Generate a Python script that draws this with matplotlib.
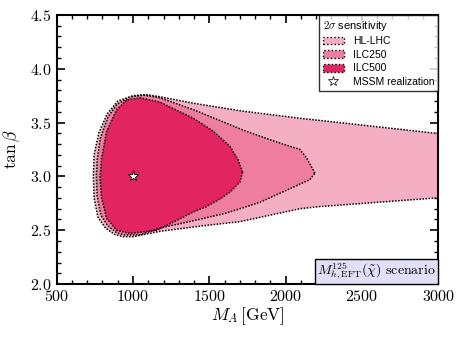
import numpy as np
import matplotlib
matplotlib.use('Agg')
import matplotlib.pyplot as plt
from matplotlib.patches import Patch
from matplotlib.lines import Line2D
from matplotlib.offsetbox import AnchoredText
from matplotlib.ticker import MultipleLocator

plt.rcParams['font.family'] = 'serif'
plt.rcParams['font.serif'] = ['cmr10']
plt.rcParams['mathtext.fontset'] = 'cm'
plt.rcParams['axes.unicode_minus'] = False
plt.rcParams['axes.formatter.use_mathtext'] = True

# contour boundaries (M_A [GeV], tan beta)
hl_ma = [3100, 2989, 2225, 2094, 1700, 1395, 1177, 1089, 1000, 900, 830, 775,
         745, 740, 745, 770, 820, 880, 935, 1000, 1177, 1450, 1701, 2094, 2225, 2989, 3100]
hl_tb = [3.39, 3.40, 3.52, 3.54, 3.61, 3.68, 3.74, 3.76, 3.75, 3.70, 3.58, 3.40,
         3.20, 3.00, 2.80, 2.62, 2.52, 2.46, 2.44, 2.44, 2.49, 2.54, 2.58, 2.70, 2.72, 2.80, 2.81]

ilc250_ma = [2192, 2138, 2094, 1900, 1722, 1550, 1395, 1177, 1070, 985, 895, 835, 785,
             765, 760, 765, 790, 835, 895, 950, 1050, 1177, 1400, 1614, 1832, 2050, 2159]
ilc250_tb = [3.03, 3.17, 3.25, 3.34, 3.43, 3.53, 3.62, 3.73, 3.755, 3.74, 3.67, 3.55, 3.35,
             3.15, 3.00, 2.82, 2.64, 2.54, 2.475, 2.455, 2.46, 2.52, 2.59, 2.66, 2.76, 2.90, 2.97]

ilc500_ma = [1718, 1690, 1635, 1526, 1395, 1177, 1046, 960, 893, 827, 794, 784,
             794, 827, 893, 980, 1155, 1270, 1395, 1480, 1570, 1640, 1701]
ilc500_tb = [3.04, 3.15, 3.28, 3.42, 3.54, 3.69, 3.73, 3.71, 3.62, 3.42, 3.17, 2.99,
             2.80, 2.61, 2.50, 2.47, 2.50, 2.58, 2.67, 2.72, 2.79, 2.86, 2.95]

mssm_ma = [1000]
mssm_tb = [3.0]

col_hl = '#f4afc5'
col_250 = '#ee7d9f'
col_500 = '#e22562'
dots = (0, (1, 1))

fig = plt.figure(figsize=(4.63, 3.39), dpi=100)
ax = fig.add_axes([0.1225, 0.162, 0.824, 0.794])

for ma, tb, c in [(hl_ma, hl_tb, col_hl), (ilc250_ma, ilc250_tb, col_250),
                  (ilc500_ma, ilc500_tb, col_500)]:
    ax.fill(ma, tb, facecolor=c, edgecolor='none', zorder=2)
    ax.plot(list(ma) + [ma[0]], list(tb) + [tb[0]], color='k', lw=1.1,
            linestyle=dots, zorder=3)

ax.plot(mssm_ma, mssm_tb, marker='*', ms=8, mfc='white', mec='k', mew=0.6,
        ls='none', zorder=4)

ax.set_xlim(500, 3000)
ax.set_ylim(2.0, 4.5)
ax.xaxis.set_major_locator(MultipleLocator(500))
ax.xaxis.set_minor_locator(MultipleLocator(100))
ax.yaxis.set_major_locator(MultipleLocator(0.5))
ax.yaxis.set_minor_locator(MultipleLocator(0.1))
ax.tick_params(which='both', direction='in', top=True, right=True, labelsize=11.5)
ax.tick_params(which='major', length=6, width=1.2)
ax.tick_params(which='minor', length=3, width=1.0)
for s in ax.spines.values():
    s.set_linewidth(1.5)
ax.set_xlabel(r'$M_A\,$[GeV]', fontsize=12.5, labelpad=1)
ax.set_ylabel(r'$\tan\beta$', fontsize=12.5, labelpad=6)

handles = [Patch(facecolor=col_hl, edgecolor='k', linestyle=':', lw=1.0),
           Patch(facecolor=col_250, edgecolor='k', linestyle=':', lw=1.0),
           Patch(facecolor=col_500, edgecolor='k', linestyle=':', lw=1.0),
           Line2D([], [], marker='*', ms=7.5, mfc='white', mec='k', mew=0.5, ls='none')]
leg = ax.legend(handles, ['HL-LHC', 'ILC250', 'ILC500', 'MSSM realization'],
                loc='upper right', borderaxespad=0, fancybox=False,
                prop={'family': 'Liberation Sans', 'size': 7.5},
                title=r'$2\sigma$ sensitivity',
                title_fontproperties={'family': 'Liberation Sans', 'size': 8},
                handlelength=2.0, handleheight=0.75, labelspacing=0.35,
                borderpad=0.35, handletextpad=0.9)
leg._legend_box.align = 'left'
leg.get_frame().set_edgecolor('k')
leg.get_frame().set_linewidth(1.0)
leg.set_zorder(10)

at = AnchoredText(r'$M_{h,\mathrm{EFT}}^{125}(\tilde{\chi})$ scenario', loc='lower right',
                  prop={'size': 10}, frameon=True, borderpad=0, pad=0.15)
at.patch.set_facecolor('#e0e0f8')
at.patch.set_edgecolor('k')
at.patch.set_linewidth(1.0)
at.patch.set_boxstyle('square,pad=0')
ax.add_artist(at)

fig.savefig('out.png', dpi=100)
